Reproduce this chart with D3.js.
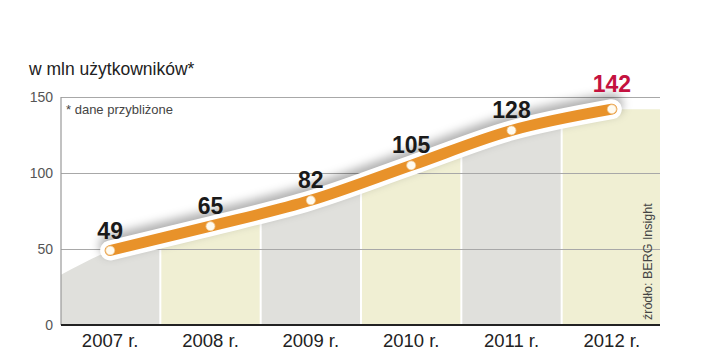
<!DOCTYPE html>
<html><head><meta charset="utf-8">
<script src="https://cdn.jsdelivr.net/npm/d3@7/dist/d3.min.js"></script>
<style>
html,body{margin:0;padding:0;background:#fff;}
svg{display:block;}
text{font-family:"Liberation Sans",Arial,sans-serif;}
</style></head>
<body>
<svg id="c" width="720" height="361"></svg>
<script>
const years = ["2007","2008","2009","2010","2011","2012"];
const xLabels = ["2007 r.","2008 r.","2009 r.","2010 r.","2011 r.","2012 r."];
const values = [49, 65, 82, 105, 128, 142];
const yTicks = [0, 50, 100, 150];
const areaStartValue = 33;   // shaded area value at the left edge
const areaEndValue = 142;    // shaded area value at the right edge
const title = "w mln użytkowników*";
const note = "* dane przybliżone";
const source = "źródło: BERG Insight";

(function(){
const svg = d3.select("#c");
const pL = 61, pR = 660, pT = 97, pB = 325;

const x = d3.scaleBand().domain(years).range([pL, pR + 1]).paddingInner(0.02).paddingOuter(0);
const cx = d => x(d) + x.bandwidth() / 2;
const y = d3.scaleLinear().domain([0, 150]).range([pB, pT]);

const defs = svg.append("defs");
const f = defs.append("filter").attr("id","sh").attr("x","-20%").attr("y","-50%").attr("width","140%").attr("height","200%");
f.append("feGaussianBlur").attr("stdDeviation", 5);

// area shape
const pts = [[pL, y(areaStartValue)]]
  .concat(years.map((yr, i) => [cx(yr), y(values[i])]))
  .concat([[pR, y(areaEndValue)]]);
const area = d3.area().x(d => d[0]).y0(pB).y1(d => d[1]).curve(d3.curveMonotoneX);
defs.append("clipPath").attr("id","ac").append("path").attr("d", area(pts));

// bands
svg.append("g").attr("clip-path","url(#ac)")
  .selectAll("rect").data(years).join("rect")
  .attr("x", (d,i) => i === 0 ? pL : x(d))
  .attr("width", (d,i) => i === 0 ? x(d) + x.bandwidth() - pL : (i === years.length-1 ? pR - x(d) : x.bandwidth()))
  .attr("y", pT - 20).attr("height", pB - pT + 20)
  .attr("fill", (d,i) => i % 2 === 0 ? "#e0e0dc" : "#f0efd3");

// gridlines
svg.append("g").selectAll("line").data(yTicks.filter(t => t > 0)).join("line")
  .attr("x1", pL).attr("x2", pR).attr("y1", d => y(d)).attr("y2", d => y(d))
  .attr("stroke", "#a8a8a8").attr("stroke-width", 1).attr("shape-rendering","crispEdges");

// y axis line
svg.append("line").attr("x1", pL).attr("x2", pL).attr("y1", pT).attr("y2", pB)
  .attr("stroke", "#999").attr("stroke-width", 1.2);

// x axis baseline
svg.append("line").attr("x1", pL).attr("x2", pR).attr("y1", pB).attr("y2", pB)
  .attr("stroke", "#222").attr("stroke-width", 2);

// y tick labels
svg.append("g").selectAll("text").data(yTicks).join("text")
  .attr("x", 53).attr("y", d => y(d)).attr("dy", "0.35em")
  .attr("text-anchor", "end").attr("font-size", 14).attr("fill", "#555")
  .text(d => d);

// x labels
svg.append("g").selectAll("text").data(years).join("text")
  .attr("x", d => cx(d)).attr("y", 347)
  .attr("text-anchor", "middle").attr("font-size", 18.5).attr("fill", "#222")
  .text((d,i) => xLabels[i]);

// line
const lineGen = d3.line().x((d,i) => cx(years[i])).y(d => y(d)).curve(d3.curveMonotoneX);
const ld = lineGen(values);
svg.append("path").attr("d", ld).attr("transform","translate(0,-5)")
  .attr("fill","none").attr("stroke","#000").attr("stroke-opacity",0.3)
  .attr("stroke-width", 22).attr("stroke-linecap","round").attr("filter","url(#sh)");
svg.append("path").attr("d", ld).attr("fill","none").attr("stroke","#fff")
  .attr("stroke-width", 20).attr("stroke-linecap","round").attr("stroke-linejoin","round");
svg.append("path").attr("d", ld).attr("fill","none").attr("stroke","#e8922a")
  .attr("stroke-width", 11).attr("stroke-linecap","round").attr("stroke-linejoin","round");

// points
svg.append("g").selectAll("circle").data(values).join("circle")
  .attr("cx", (d,i) => cx(years[i])).attr("cy", d => y(d)).attr("r", 4.5)
  .attr("fill", "#fffbf0").attr("stroke", "#f0c890").attr("stroke-width", 0.8);

// value labels
svg.append("g").selectAll("text").data(values).join("text")
  .attr("x", (d,i) => cx(years[i]))
  .attr("y", (d,i) => y(d) - (i === values.length-1 ? 17 : 12))
  .attr("text-anchor", "middle").attr("font-size", 23).attr("font-weight", "bold")
  .attr("fill", (d,i) => i === values.length-1 ? "#c4123f" : "#1a1a1a")
  .text(d => d);

// title & notes
svg.append("text").attr("x", 29).attr("y", 75).attr("font-size", 17.5).attr("fill", "#222").text(title);
svg.append("text").attr("x", 66).attr("y", 114).attr("font-size", 13).attr("fill", "#444").text(note);
svg.append("text").attr("transform", "translate(652,320) rotate(-90)")
  .attr("font-size", 12.5).attr("fill", "#444").text(source);
})();
</script>
</body></html>
